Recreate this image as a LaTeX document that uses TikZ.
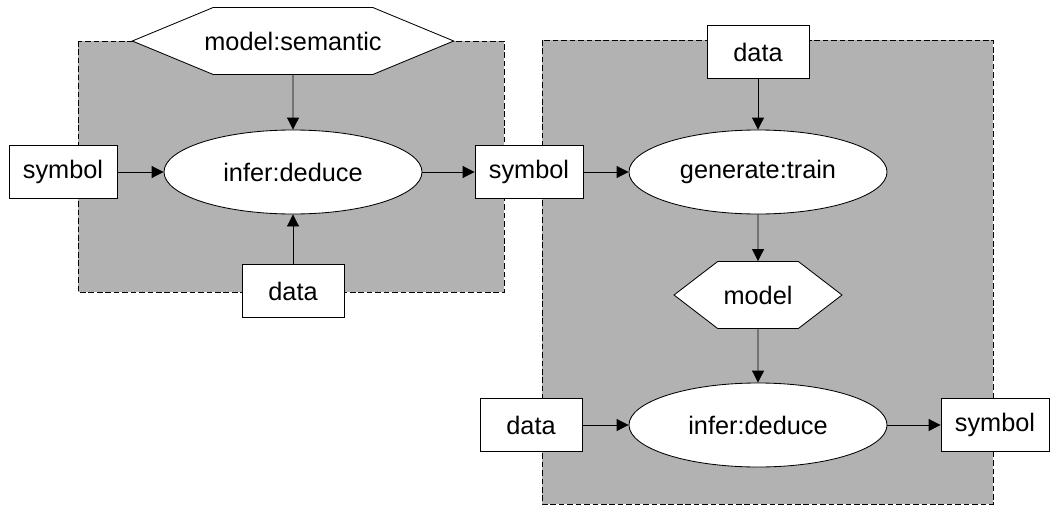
\documentclass[tikz,border=0pt]{standalone}
\usepackage{fontspec}
\setmainfont{Liberation Sans}
\usetikzlibrary{positioning,shapes.geometric,shapes.symbols,arrows.meta}

\begin{document}
\begin{tikzpicture}[->, >={Triangle[length=0.3cm,width=0.3cm]}, line width=0.6pt,
  box node/.style={rectangle, draw, fill=white, minimum width=2.7cm, minimum height=1.32cm},
  round node/.style={ellipse, draw, fill=white, minimum width=6.45cm, minimum height=2.1cm},
  hex node/.style={signal, signal to=east and west, draw, fill=white, minimum height=1.675cm},
  area/.style={-, draw, dash pattern=on 4pt off 2pt, fill=gray!60}]
  \tikzstyle{every node}=[font=\fontsize{18}{22}\selectfont]
  \useasboundingbox (0,0) rectangle (26.475,-12.7);

  % grey areas
  \draw[area] (1.95,-1.025) rectangle (12.6,-7.3);
  \draw[area] (13.55,-1) rectangle (24.825,-12.6);

  \node[round node] (1) at (7.325,-4.3) {infer:deduce};
  \node[hex node, signal pointer angle=45, inner xsep=-0.22cm] (2) [node distance=3.275cm, above of=1] {model:semantic};
  \node[box node] (3) [node distance=5.75cm, left of=1] {symbol};
  \node[box node, minimum width=2.55cm] (4) [node distance=2.975cm, below of=1] {data};
  \node[box node] (5) [node distance=5.9cm, right of=1] {symbol};

  \node[round node] (6) [node distance=5.725cm, right of=5] {generate:train};
  \node[box node, minimum width=2.55cm] (7) [node distance=3cm, above of=6] {data};
  \node[hex node, signal pointer angle=75, minimum width=4.2cm] (8) [node distance=3.075cm, below of=6] {model};
  \node[round node] (9) [node distance=3.25cm, below of=8] {infer:deduce};
  \node[box node, minimum width=2.55cm] (10) [node distance=5.675cm, left of=9] {data};
  \node[box node] (11) [node distance=5.925cm, right of=9] {symbol};

  \path
    (2) edge (1)
    (3) edge (1)
    (4) edge (1)
    (1) edge (5)
    (5) edge (6)
    (7) edge (6)
    (6) edge (8)
    (8) edge (9)
    (10) edge (9)
    (9) edge (11);

\end{tikzpicture}
\end{document}
